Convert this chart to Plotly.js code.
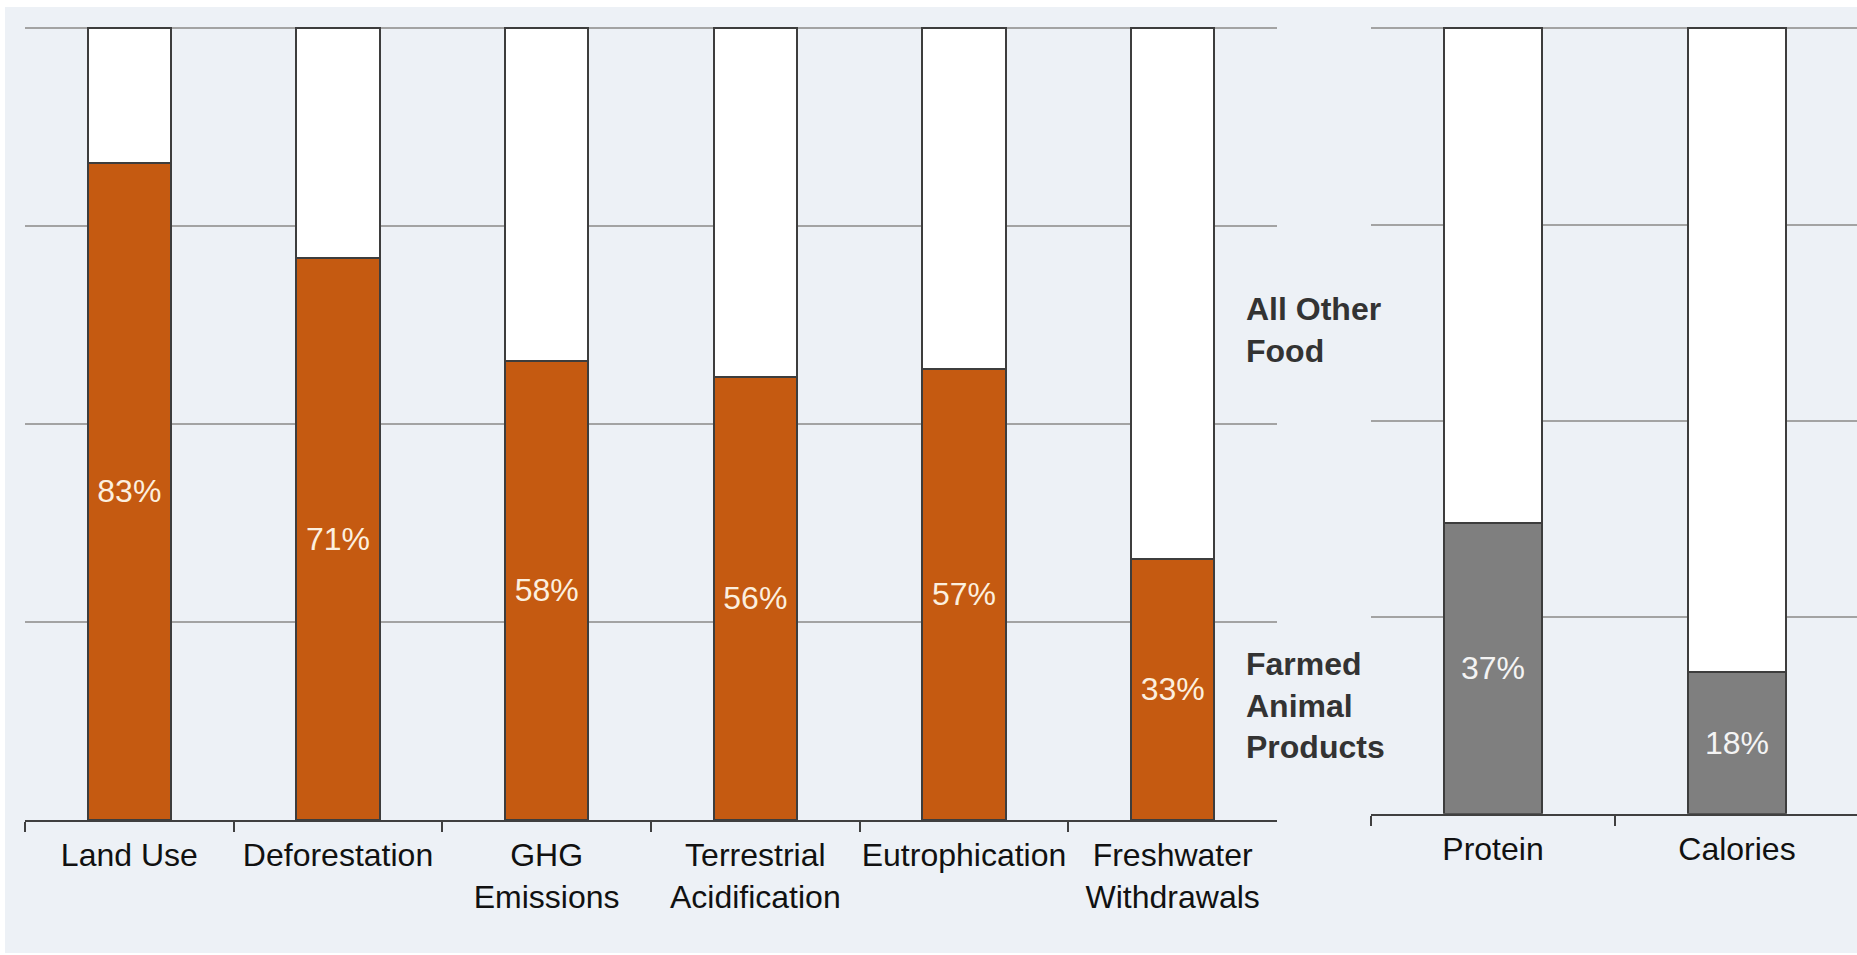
<!DOCTYPE html>
<html>
<head>
<meta charset="utf-8">
<script src="https://cdn.plot.ly/plotly-3.0.1.min.js"></script>
<style>
  html, body { margin: 0; padding: 0; background: #ffffff; }
  #chart { position: absolute; left: 5px; top: 7px; width: 1852px; height: 946px; }
</style>
</head>
<body>
<div id="chart"></div>
<script>
// impact categories (left panel)
const impactCats = ['Land Use', 'Deforestation', 'GHG<br>Emissions', 'Terrestrial<br>Acidification', 'Eutrophication', 'Freshwater<br>Withdrawals'];
const impactAnimal = [83, 71, 58, 56, 57, 33];
const impactOther = [17, 29, 42, 44, 43, 67];

// nutrition categories (right panel)
const nutritionCats = ['Protein', 'Calories'];
const nutritionAnimal = [37, 18];
const nutritionOther = [63, 82];

const outline = { color: '#3d3d3d', width: 2 };
const labelFont = 'Liberation Sans, Arial, Helvetica, sans-serif';

function pct(vals) {
    return vals.map(v => v + '%');
}

const data = [
    {
        type: 'bar', x: impactCats, y: impactAnimal, xaxis: 'x', yaxis: 'y',
        marker: { color: '#c55a11', line: outline },
        text: pct(impactAnimal), textposition: 'inside', insidetextanchor: 'middle',
        textfont: { size: 32, color: '#fcefdf', family: labelFont },
        hoverinfo: 'none'
    },
    {
        type: 'bar', x: impactCats, y: impactOther, xaxis: 'x', yaxis: 'y',
        marker: { color: '#ffffff', line: outline },
        hoverinfo: 'none'
    },
    {
        type: 'bar', x: nutritionCats, y: nutritionAnimal, xaxis: 'x2', yaxis: 'y2',
        marker: { color: '#7f7f7f', line: outline },
        text: pct(nutritionAnimal), textposition: 'inside', insidetextanchor: 'middle',
        textfont: { size: 32, color: '#f4f4f4', family: labelFont },
        hoverinfo: 'none'
    },
    {
        type: 'bar', x: nutritionCats, y: nutritionOther, xaxis: 'x2', yaxis: 'y2',
        marker: { color: '#ffffff', line: outline },
        hoverinfo: 'none'
    }
];

const xCommon = {
    type: 'category',
    showline: true, linecolor: '#404040', linewidth: 2,
    ticks: 'outside', tickson: 'boundaries', ticklen: 10, tickcolor: '#404040', tickwidth: 2,
    tickangle: 0, ticklabelstandoff: 6,
    showgrid: false, zeroline: false, fixedrange: true,
    tickfont: { size: 32, color: '#111111', family: labelFont }
};
const yCommon = {
    range: [0, 100.15], dtick: 25, tick0: 0,
    showgrid: true, gridcolor: '#a3a3a3', gridwidth: 2,
    showticklabels: false, zeroline: false, showline: false, fixedrange: true
};

const layout = {
    width: 1852, height: 946,
    paper_bgcolor: '#edf1f6', plot_bgcolor: 'rgba(0,0,0,0)',
    margin: { l: 20, r: 0, t: 20, b: 133 },
    barmode: 'stack', bargap: 0.6,
    showlegend: false,
    xaxis: Object.assign({}, xCommon, { domain: [0, 0.6834], anchor: 'y' }),
    yaxis: Object.assign({}, yCommon, { domain: [0, 1], anchor: 'x' }),
    xaxis2: Object.assign({}, xCommon, { domain: [0.7347, 1], anchor: 'y2', range: [-0.5, 1.492] }),
    yaxis2: Object.assign({}, yCommon, { domain: [0.008, 1], anchor: 'x2' }),
    annotations: [
        {
            xref: 'paper', yref: 'paper', x: 0.6654, y: 0.618, xanchor: 'left', yanchor: 'middle',
            text: '<b>All Other<br>Food</b>', align: 'left', showarrow: false,
            font: { size: 32, color: '#333333', family: labelFont }
        },
        {
            xref: 'paper', yref: 'paper', x: 0.6654, y: 0.144, xanchor: 'left', yanchor: 'middle',
            text: '<b>Farmed<br>Animal<br>Products</b>', align: 'left', showarrow: false,
            font: { size: 32, color: '#333333', family: labelFont }
        }
    ]
};

Plotly.newPlot('chart', data, layout, { displayModeBar: false, staticPlot: true });
</script>
</body>
</html>
